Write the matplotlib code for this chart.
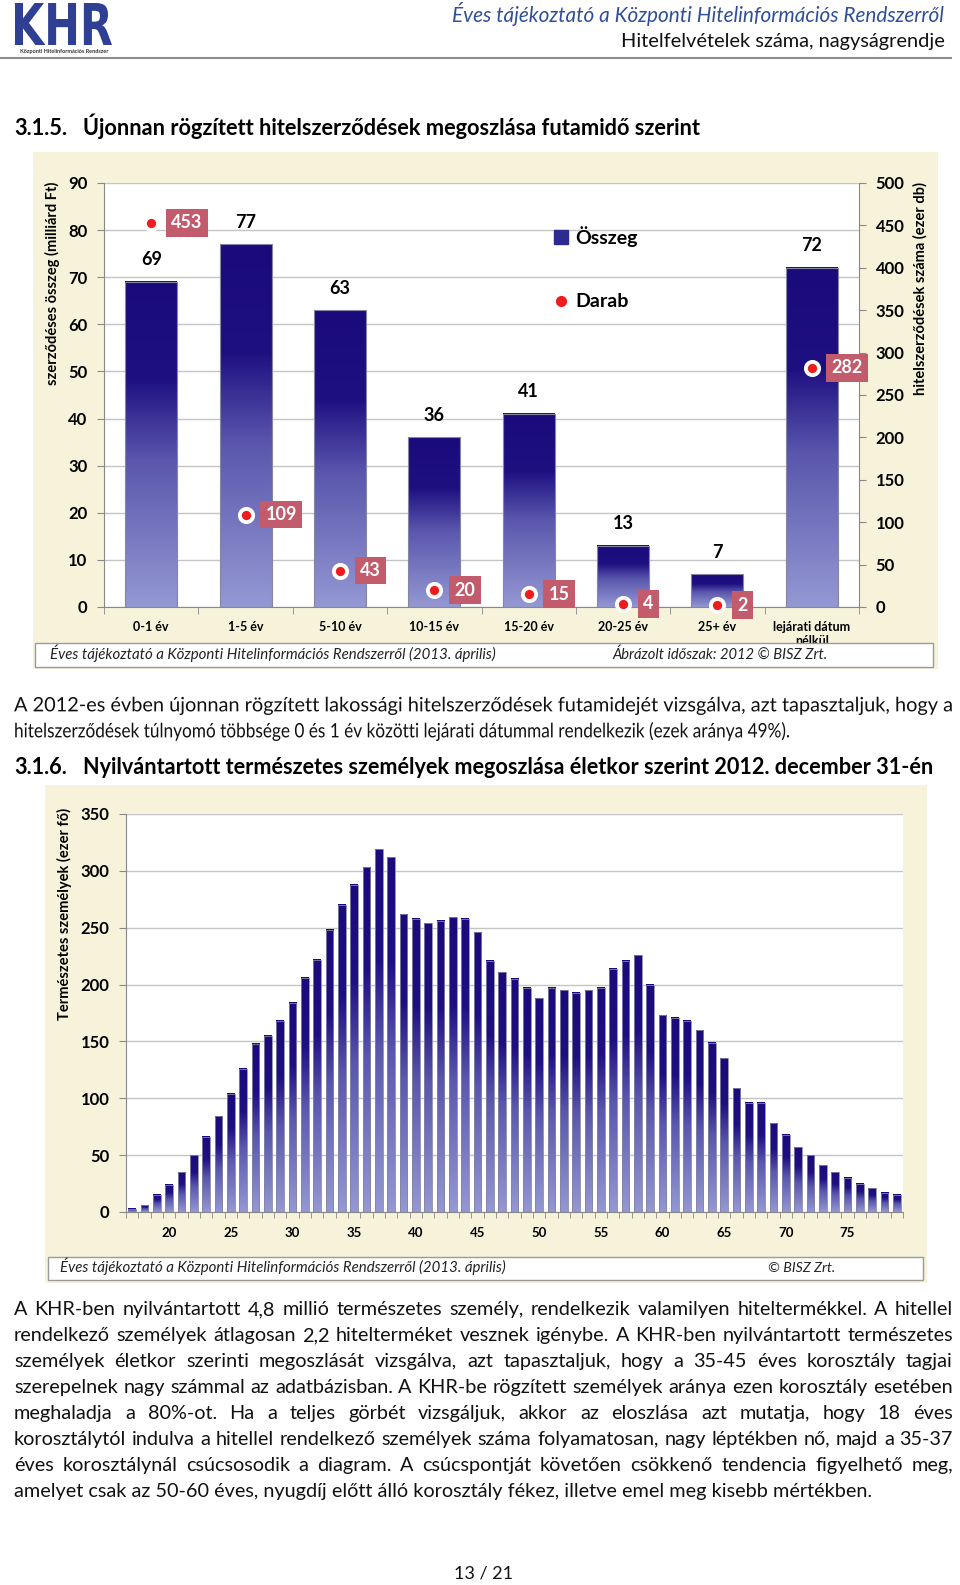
import numpy as np
import matplotlib
matplotlib.use("Agg")
import matplotlib.pyplot as plt
from matplotlib.colors import LinearSegmentedColormap
from matplotlib.patches import Rectangle, PathPatch
from matplotlib.textpath import TextPath, text_to_path
from matplotlib.font_manager import FontProperties
from matplotlib.transforms import Affine2D
from matplotlib.lines import Line2D

plt.rcParams['font.family'] = ['Lato', 'DejaVu Sans']

# --- chart 1: newly registered contracts by maturity
cats = ["0-1 év", "1-5 év", "5-10 év", "10-15 év", "15-20 év", "20-25 év",
        "25+ év", "lejárati dátum\nnélkül"]
osszeg = [69, 77, 63, 36, 41, 13, 7, 72]          # milliárd Ft
darab = [453, 109, 43, 20, 15, 4, 2, 282]         # ezer db

# --- chart 2: registered persons by age (ezer fő)
ages = list(range(17, 80))
persons = [3, 6, 15, 24, 35, 50, 66, 84, 104, 126,
           148, 155, 168, 184, 206, 222, 248, 270, 288, 303,
           319, 312, 262, 258, 254, 256, 259, 258, 246, 221,
           211, 205, 197, 188, 197, 195, 193, 195, 197, 214,
           221, 226, 200, 173, 171, 168, 160, 149, 135, 109,
           96, 96, 78, 68, 57, 50, 41, 35, 30, 25,
           21, 17, 15]
age_ticks = [20, 25, 30, 35, 40, 45, 50, 55, 60, 65, 70, 75]

para1 = ["A 2012-es évben újonnan rögzített lakossági hitelszerződések futamidejét vizsgálva, azt tapasztaljuk, hogy a",
         "hitelszerződések túlnyomó többsége 0 és 1 év közötti lejárati dátummal rendelkezik (ezek aránya 49%)."]
para2 = ["A KHR-ben nyilvántartott 4,8 millió természetes személy, rendelkezik valamilyen hiteltermékkel. A hitellel",
         "rendelkező személyek átlagosan 2,2 hitelterméket vesznek igénybe. A KHR-ben nyilvántartott természetes",
         "személyek életkor szerinti megoszlását vizsgálva, azt tapasztaljuk, hogy a 35-45 éves korosztály tagjai",
         "szerepelnek nagy számmal az adatbázisban. A KHR-be rögzített személyek aránya ezen korosztály esetében",
         "meghaladja a 80%-ot. Ha a teljes görbét vizsgáljuk, akkor az eloszlása azt mutatja, hogy 18 éves",
         "korosztálytól indulva a hitellel rendelkező személyek száma folyamatosan, nagy léptékben nő, majd a 35-37",
         "éves korosztálynál csúcsosodik a diagram. A csúcspontját követően csökkenő tendencia figyelhető meg,",
         "amelyet csak az 50-60 éves, nyugdíj előtt álló korosztály fékez, illetve emel meg kisebb mértékben."]

W, H = 960, 1585
CREAM = '#f6f3da'
GRID = '#c4c4c4'
SPINE = '#888888'
TXT = '#111111'
bar_cmap = LinearSegmentedColormap.from_list(
    'bar', [(0, '#9498d3'), (0.45, '#5a57ad'), (0.7, '#1f1082'), (1, '#1a0a7b')])
grad = np.linspace(0, 1, 256).reshape(-1, 1)

def fig_rect(l, t, r, b):
    return [l / W, 1 - b / H, (r - l) / W, (b - t) / H]

fig = plt.figure(figsize=(W / 100, H / 100), dpi=100)
renderer = fig.canvas.get_renderer()

pg = fig.add_axes([0, 0, 1, 1], zorder=0)
pg.set_xlim(0, W); pg.set_ylim(H, 0); pg.axis('off')
ov = fig.add_axes([0, 0, 1, 1], zorder=10)
ov.set_xlim(0, W); ov.set_ylim(H, 0); ov.axis('off')

def width_px(t):
    return t.get_window_extent(renderer).width

def base(y, fs):
    # vertical centre of a line of text -> its baseline (pixels, y down)
    return y + 0.32 * fs * 100 / 72

def fit_text(ax, x0, x1, y, s, **kw):
    t = ax.text(x0, y, s, ha='left', va='baseline', **kw)
    t.set_fontsize(t.get_fontsize() * (x1 - x0) / width_px(t))
    t.set_y(base(y, t.get_fontsize()))
    return t

def justify(ax, x0, x1, y, line, fs, **kw):
    words = line.split(' ')
    ts = [ax.text(x0, base(y, fs), w, fontsize=fs, ha='left', va='baseline', **kw)
          for w in words]
    ws = [width_px(t) for t in ts]
    gap = (x1 - x0 - sum(ws)) / (len(words) - 1)
    x = x0
    for t, w in zip(ts, ws):
        t.set_x(x)
        x += w + gap

def tw(s, prop):
    return text_to_path.get_text_width_height_descent(s, prop, ismath=False)[0]

def condensed_line(ax, x0, x1, y, line, fs):
    # text drawn as outlines, squeezed horizontally to span x0..x1 (paragraph 1 is condensed)
    prop = FontProperties(family='Lato', size=fs * 100 / 72)
    sx = (x1 - x0) / tw(line, prop)
    tp = TextPath((0, 0), line, prop=prop)
    path = Affine2D().scale(sx, -1).translate(x0, base(y, fs)).transform_path(tp)
    ax.add_patch(PathPatch(path, fc=TXT, ec='none', lw=0))

# ---------------- page header
tp = TextPath((0, 0), 'KHR', size=50, prop=FontProperties(family='DejaVu Sans', weight='bold'))
ext = tp.get_extents()
tr = (Affine2D().translate(-ext.x0, -ext.y0)
      .scale((112 - 15) / ext.width, -(45 - 3) / ext.height).translate(15, 45))
pg.add_patch(PathPatch(tr.transform_path(tp), fc='#2f3f94', ec='none'))
pg.text(64, 52, 'Központi Hitelinformációs Rendszer', fontsize=4, fontweight='bold',
        ha='center', va='center', color='#333333')
fit_text(pg, 452, 944, 15, 'Éves tájékoztató a Központi Hitelinformációs Rendszerről',
         style='italic', color='#2f4f9a', fontsize=13)
fit_text(pg, 621, 944, 41, 'Hitelfelvételek száma, nagyságrendje', color=TXT, fontsize=13)
pg.hlines(58, 0, 952, color='#8c8c8c', lw=1.5)

# ---------------- headings and body text
h1 = fit_text(pg, 83, 703, 128, 'Újonnan rögzített hitelszerződések megoszlása futamidő szerint',
              fontweight='bold', fontsize=14)
pg.text(14, h1.get_position()[1], '3.1.5.', fontweight='bold', fontsize=h1.get_fontsize(),
        ha='left', va='baseline')
h2 = fit_text(pg, 83, 936, 767, 'Nyilvántartott természetes személyek megoszlása életkor szerint 2012. december 31-én',
              fontweight='bold', fontsize=14)
pg.text(14, h2.get_position()[1], '3.1.6.', fontweight='bold', fontsize=h2.get_fontsize(),
        ha='left', va='baseline')

line_h = 25.9
last2 = fit_text(pg, 14, 871, 1309 + 7 * line_h, para2[-1], fontsize=12, color=TXT)
fs_body = last2.get_fontsize()
for i, line in enumerate(para2[:-1]):
    justify(pg, 14, 953, 1309 + i * line_h, line, fs_body, color=TXT)

condensed_line(pg, 14, 953, 705, para1[0], fs_body)
condensed_line(pg, 14, 790, 731, para1[1], fs_body)

fit_text(pg, 454, 513, 1573, '13 / 21', fontsize=12, color=TXT)

# ---------------- chart 1 background + footer
pg.add_patch(Rectangle((33, 152), 938 - 33, 669 - 152, fc=CREAM, ec='none'))
ov.add_patch(Rectangle((35, 643), 933 - 35, 667 - 643, fc='white', ec='#9a9a9a', lw=1))
fit_text(ov, 50, 497, 654, 'Éves tájékoztató a Központi Hitelinformációs Rendszerről (2013. április)',
         style='italic', color='#222222', fontsize=10)
fit_text(ov, 612, 828, 654, 'Ábrázolt időszak: 2012 © BISZ Zrt.',
         style='italic', color='#222222', fontsize=10)

ax1 = fig.add_axes(fig_rect(104, 183, 859, 607), zorder=2)
x = np.arange(len(cats))
bars = ax1.bar(x, osszeg, width=0.55, color='none', edgecolor='#8585a5', linewidth=0.8, zorder=3)
for b, v in zip(bars, osszeg):
    ax1.imshow(grad, cmap=bar_cmap, origin='lower', aspect='auto', zorder=2,
               extent=[b.get_x(), b.get_x() + b.get_width(), 0, v])
for xi, v in zip(x, osszeg):
    ax1.annotate(str(v), (xi, v), xytext=(0, 22), textcoords='offset pixels',
                 ha='center', va='center', fontweight='bold', fontsize=13)
ax1.set_xlim(-0.5, len(cats) - 0.5)
ax1.set_ylim(0, 90)
ax1.set_yticks(np.arange(0, 91, 10))
ax1.yaxis.grid(True, color=GRID, lw=1)
ax1.set_axisbelow(True)
ax1.set_xticks(x, cats)
ax1.set_xticks(np.arange(-0.5, len(cats), 1), minor=True)
ax1.tick_params(axis='x', which='major', length=0, pad=10, labelsize=9)
ax1.tick_params(axis='x', which='minor', length=5, color=SPINE)
ax1.tick_params(axis='y', length=5, color=SPINE, labelsize=12, pad=7)
for lab in ax1.get_xticklabels() + ax1.get_yticklabels():
    lab.set_fontweight('bold')
for s in ['top', 'right']:
    ax1.spines[s].set_visible(False)
for s in ['left', 'bottom']:
    ax1.spines[s].set_color(SPINE)
ax1.set_ylabel('szerződéses összeg (milliárd Ft)', fontweight='bold', fontsize=10.5)
ax1.yaxis.set_label_coords(-0.058, 0.764)

ax2 = ax1.twinx()
ax2.set_ylim(0, 500)
ax2.set_yticks(np.arange(0, 501, 50))
ax2.plot(x, darab, 'o', ms=9.5, mfc='#ee1c1c', mec='white', mew=2.8, zorder=5, clip_on=False)
for xi, d in zip(x, darab):
    ax2.annotate(str(d), (xi, d), xytext=(20, 0), textcoords='offset pixels',
                 ha='left', va='center', color='white', fontweight='bold', fontsize=13,
                 bbox=dict(boxstyle='square,pad=0.3', fc='#c25c6c', ec='none'))
for s in ['top', 'left', 'bottom']:
    ax2.spines[s].set_visible(False)
ax2.spines['right'].set_color(SPINE)
ax2.tick_params(axis='y', length=5, color=SPINE, labelsize=12, pad=7)
for lab in ax2.get_yticklabels():
    lab.set_fontweight('bold')
ax2.set_ylabel('hitelszerződések száma (ezer db)', fontweight='bold', fontsize=10.5)
ax2.yaxis.set_label_coords(1.0715, 0.75)
handles = [Line2D([], [], marker='s', ls='none', mfc='#2d2b8f', mec='#2d2b8f', ms=10),
           Line2D([], [], marker='o', ls='none', mfc='#ee1c1c', mec='#ee1c1c', ms=7)]
ax2.legend(handles, ['Összeg', 'Darab'], loc='upper left', bbox_to_anchor=(0.572, 0.94),
           frameon=False, prop={'weight': 'bold', 'size': 14}, labelspacing=2.4,
           handlelength=0.8, handletextpad=0.35)

# ---------------- chart 2 background + footer
pg.add_patch(Rectangle((45, 785), 927 - 45, 1283 - 785, fc=CREAM, ec='none'))
ov.add_patch(Rectangle((48, 1257), 923 - 48, 1280 - 1257, fc='white', ec='#9a9a9a', lw=1))
fit_text(ov, 60, 508, 1267, 'Éves tájékoztató a Központi Hitelinformációs Rendszerről (2013. április)',
         style='italic', color='#222222', fontsize=10)
fit_text(ov, 768, 835, 1267, '© BISZ Zrt.', style='italic', color='#222222', fontsize=10)

ax3 = fig.add_axes(fig_rect(126, 814, 903, 1212), zorder=2)
bars = ax3.bar(ages, persons, width=0.6, color='none', edgecolor='#8585a5', linewidth=0.6, zorder=3)
for b, v in zip(bars, persons):
    ax3.imshow(grad, cmap=bar_cmap, origin='lower', aspect='auto', zorder=2,
               extent=[b.get_x(), b.get_x() + b.get_width(), 0, v])
ax3.set_xlim(ages[0] - 0.5, ages[-1] + 0.5)
ax3.set_ylim(0, 350)
ax3.set_yticks(np.arange(0, 351, 50))
ax3.yaxis.grid(True, color=GRID, lw=1)
ax3.set_axisbelow(True)
ax3.set_xticks(age_ticks)
ax3.set_xticks(np.arange(ages[0] - 0.5, ages[-1] + 1, 1), minor=True)
ax3.tick_params(axis='x', which='major', length=0, pad=11, labelsize=9.5)
ax3.tick_params(axis='x', which='minor', length=4, color=SPINE)
ax3.tick_params(axis='y', length=5, color=SPINE, labelsize=12, pad=7)
for lab in ax3.get_xticklabels() + ax3.get_yticklabels():
    lab.set_fontweight('bold')
for s in ['top', 'right']:
    ax3.spines[s].set_visible(False)
for s in ['left', 'bottom']:
    ax3.spines[s].set_color(SPINE)
ax3.set_ylabel('Természetes személyek (ezer fő)', fontweight='bold', fontsize=10.5)
ax3.yaxis.set_label_coords(-0.069, 0.75)

fig.savefig('out.png', dpi=100)
